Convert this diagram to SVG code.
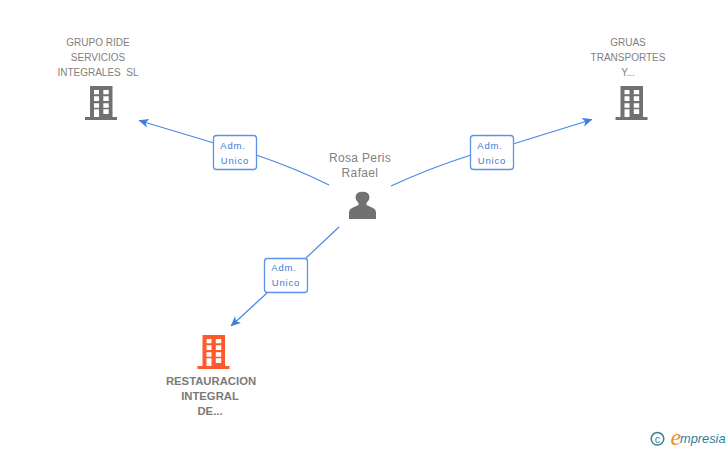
<svg xmlns="http://www.w3.org/2000/svg" width="728" height="450" viewBox="0 0 728 450">
<style>
text{font-family:"Liberation Sans",Arial,sans-serif}
.n{font-size:10px;fill:#808080;text-anchor:middle;white-space:pre}
.p{font-size:12px;fill:#808080;text-anchor:middle;letter-spacing:.35px}
.b{font-size:11.300px;font-weight:bold;fill:#7a7a7a;text-anchor:middle}
.e{fill:none;stroke:#4a86e8;stroke-width:1.200}
.bx{fill:#fff;stroke:#5b93ea;stroke-width:1.300}
.t{font-size:9.500px;fill:#3c78d8;text-anchor:middle;letter-spacing:.8px}
</style>
<defs>
<marker id="a" markerUnits="userSpaceOnUse" markerWidth="10" markerHeight="10" refX="9.500" refY="5" orient="auto" viewBox="0 0 10 10"><path d="M10 5L0 0.500L2.500 5L0 9.500Z" fill="#3f7fe0"/></marker>
<path id="bld" fill-rule="evenodd" d="M90 86H112.500V117H117V120H85V117H90ZM94 90V94.300H99V90ZM103.300 90V94.300H108.700V90ZM94 96.300V101H99V96.300ZM103.300 96.300V101H108.700V96.300ZM94 103.300V107.700H99V103.300ZM103.300 103.300V107.700H108.700V103.300ZM94 109.300V117H99V109.300ZM103.300 109.300V114H108.700V109.300Z"/>
</defs>
<g id="connectors">
<path class="e" d="M329 185Q295 168 256 155" />
<path class="e" d="M214 143L139 120.500" marker-end="url(#a)"/>
<path class="e" d="M391 186Q430 168 471 155"/>
<path class="e" d="M513 144L592 119.500" marker-end="url(#a)"/>
<path class="e" d="M339 227L306 258"/>
<path class="e" d="M267 293L231 326" marker-end="url(#a)"/>
</g>
<g id="node-grupo">
<text class="n" x="98" y="46">GRUPO RIDE</text>
<text class="n" x="98" y="61">SERVICIOS</text>
<text class="n" x="98" y="76">INTEGRALES  SL</text>
<use href="#bld" fill="#717171"/>
</g>
<g id="node-gruas">
<text class="n" x="628" y="46">GRUAS</text>
<text class="n" x="628" y="61">TRANSPORTES</text>
<text class="n" x="628" y="76">Y...</text>
<use href="#bld" fill="#717171" x="530.500"/>
</g>
<g id="node-rest">
<use href="#bld" fill="#ff5a2c" x="112.500" y="249"/>
<text class="b" x="211" y="384.500">RESTAURACION</text>
<text class="b" x="210" y="399.500">INTEGRAL</text>
<text class="b" x="210" y="414.500">DE...</text>
</g>
<g id="node-person">
<text class="p" x="360" y="162">Rosa Peris</text>
<text class="p" x="360" y="177">Rafael</text>
<path fill="#717171" d="M349 219V212.500Q349 209 353 207.500L358.500 205V203Q355.500 200 355.500 197.500Q355.500 191.800 362.500 191.800Q369.500 191.800 369.500 197.500Q369.500 200 366.500 203V205L372 207.500Q376 209 376 212.500V219Z"/>
</g>
<g id="label-1">
<rect class="bx" x="213.500" y="135.500" width="43" height="34" rx="3"/>
<text class="t" x="233" y="149">Adm.</text>
<text class="t" x="235" y="164">Unico</text>
</g>
<g id="label-2">
<rect class="bx" x="470.500" y="135.500" width="43" height="34" rx="3"/>
<text class="t" x="490" y="149">Adm.</text>
<text class="t" x="492" y="164">Unico</text>
</g>
<g id="label-3">
<rect class="bx" x="264.500" y="258.500" width="43" height="34" rx="3"/>
<text class="t" x="284" y="271">Adm.</text>
<text class="t" x="286" y="286">Unico</text>
</g>
<g id="logo">
<circle cx="657.500" cy="438.800" r="6.300" fill="none" stroke="#3d7f96" stroke-width="1.500"/>
<text x="657.500" y="442.500" font-size="11" fill="#3d7f96" text-anchor="middle">c</text>
<text x="670.500" y="445" font-size="24" font-style="italic" fill="#f08a1d" style="font-family:'Liberation Serif',serif">e</text>
<text x="680" y="443" font-size="12.800" font-style="italic" fill="#2f7f96">mpresia</text>
</g>
</svg>
